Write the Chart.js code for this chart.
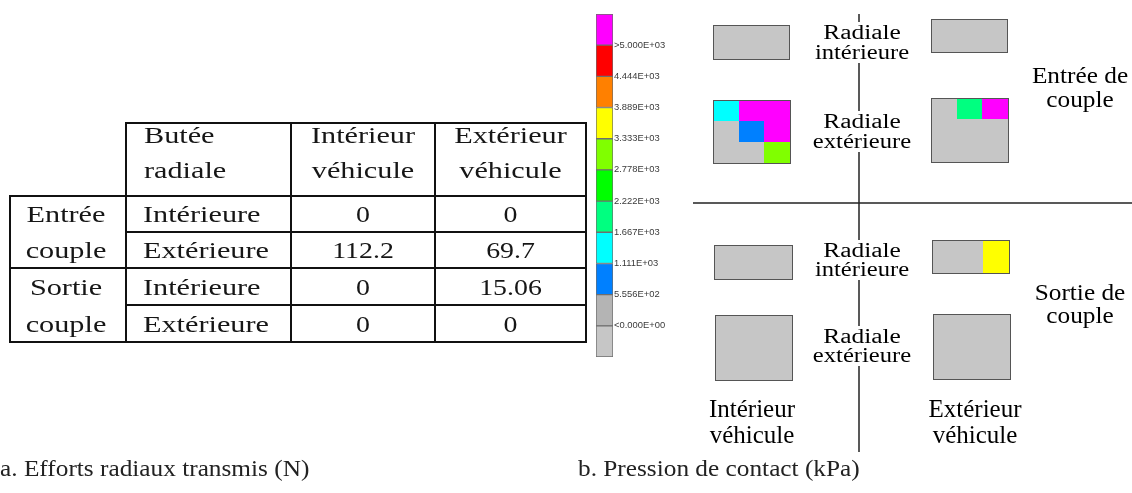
<!DOCTYPE html>
<html>
<head>
<meta charset="utf-8">
<script src="https://cdn.jsdelivr.net/npm/chart.js@4.4.1/dist/chart.umd.min.js"></script>
<style>
  body { margin: 0; background: #fff; }
  #wrap { position: relative; width: 1132px; height: 493px; }
  canvas { position: absolute; top: 0; }
</style>
</head>
<body>
<div id="wrap">
  <canvas id="main" width="1132" height="493" style="left:0"></canvas>
  <canvas id="bar" width="120" height="372" style="left:590px"></canvas>
</div>
<script>
// table a. : efforts radiaux transmis (N)
var colHeaders = [['Butée', 'radiale'], ['Intérieur', 'véhicule'], ['Extérieur', 'véhicule']];
var groups = [['Entrée', 'couple'], ['Sortie', 'couple']];
var butees = ['Intérieure', 'Extérieure', 'Intérieure', 'Extérieure'];
var effortsInterieur = [0, 112.2, 0, 0];
var effortsExterieur = [0, 69.7, 15.06, 0];

// colour scale of the contact pressure (kPa)
var cbEdges = [-555.6, 0, 555.6, 1111, 1667, 2222, 2778, 3333, 3889, 4444, 5000, 5555.6];
var cbColors = ['#c6c6c6', '#b4b4b4', '#0080ff', '#00ffff', '#00ff80', '#00ff00', '#80ff00', '#ffff00', '#ff8000', '#ff0000', '#ff00ff'];
var cbTicks = [0, 555.6, 1111, 1667, 2222, 2778, 3333, 3889, 4444, 5000];
var cbTickLabels = ['<0.000E+00', '5.556E+02', '1.111E+03', '1.667E+03', '2.222E+03', '2.778E+03', '3.333E+03', '3.889E+03', '4.444E+03', '>5.000E+03'];

// pressure class of each cell of the contact patches (index in cbColors)
var entreeIntRadInt = [[0, 0, 0]];
var entreeExtRadInt = [[0, 0, 0]];
var entreeIntRadExt = [[3, 10, 10], [0, 2, 10], [0, 0, 6]];
var entreeExtRadExt = [[0, 4, 10], [0, 0, 0], [0, 0, 0]];
var sortieIntRadInt = [[0, 0, 0]];
var sortieExtRadInt = [[0, 0, 7]];
var sortieIntRadExt = [[0, 0, 0], [0, 0, 0], [0, 0, 0]];
var sortieExtRadExt = [[0, 0, 0], [0, 0, 0], [0, 0, 0]];

var captionA = 'a. Efforts radiaux transmis (N)';
var captionB = 'b. Pression de contact (kPa)';

var W = 1132, H = 493;
var SERIF = '"Liberation Serif", "Times New Roman", serif';

function text(ctx, s, x, y, size, sx, align, color) {
    ctx.save();
    ctx.font = size + 'px ' + SERIF;
    ctx.fillStyle = color || '#000';
    ctx.textBaseline = 'alphabetic';
    var w = ctx.measureText(s).width * sx;
    var left = align == 'center' ? x - w / 2 : (align == 'right' ? x - w : x);
    ctx.translate(left, y);
    ctx.scale(sx, 1);
    ctx.textAlign = 'left';
    ctx.fillText(s, 0, 0);
    ctx.restore();
    return w;
}

var figurePlugin = {
    id: 'figure',
    afterDraw: function(chart) {
        var ctx = chart.ctx;
        var X = function(v) { return chart.scales.x.getPixelForValue(v); };
        var Y = function(v) { return chart.scales.y.getPixelForValue(v); };

        function line(x0, y0, x1, y1, w, c) {
            ctx.beginPath();
            ctx.moveTo(X(x0), Y(y0));
            ctx.lineTo(X(x1), Y(y1));
            ctx.lineWidth = w;
            ctx.strokeStyle = c;
            ctx.stroke();
        }

        // ---- table
        var colX = [10, 126, 291, 435, 586];
        var rowY = [123, 196, 232, 268, 305, 342];
        ctx.save();
        ctx.lineCap = 'square';
        line(colX[1], rowY[0], colX[4], rowY[0], 2, '#111');
        line(colX[0], rowY[1], colX[4], rowY[1], 2, '#111');
        line(colX[1], rowY[2], colX[4], rowY[2], 2, '#111');
        line(colX[0], rowY[3], colX[4], rowY[3], 2, '#111');
        line(colX[1], rowY[4], colX[4], rowY[4], 2, '#111');
        line(colX[0], rowY[5], colX[4], rowY[5], 2, '#111');
        line(colX[0], rowY[1], colX[0], rowY[5], 2, '#111');
        for (var c = 1; c < 5; c++) line(colX[c], rowY[0], colX[c], rowY[5], 2, '#111');
        ctx.restore();

        var TS = 24, TX = 1.26, NX = 1.16, TC = '#161616';
        // headers
        text(ctx, colHeaders[0][0], X(144), Y(143), TS, TX, 'left', TC);
        text(ctx, colHeaders[0][1], X(144), Y(178), TS, TX, 'left', TC);
        for (var h = 1; h < 3; h++) {
            var cx = (colX[h + 1] + colX[h + 2]) / 2;
            text(ctx, colHeaders[h][0], X(cx), Y(143), TS, TX, 'center', TC);
            text(ctx, colHeaders[h][1], X(cx), Y(178), TS, TX, 'center', TC);
        }
        // rows
        for (var r = 0; r < 4; r++) {
            var by = rowY[r + 2] - 10;
            text(ctx, groups[Math.floor(r / 2)][r % 2], X(66), Y(by), TS, TX, 'center', TC);
            text(ctx, butees[r], X(143), Y(by), TS, TX, 'left', TC);
            text(ctx, String(effortsInterieur[r]), X((colX[2] + colX[3]) / 2), Y(by), TS, NX, 'center', TC);
            text(ctx, String(effortsExterieur[r]), X((colX[3] + colX[4]) / 2), Y(by), TS, NX, 'center', TC);
        }

        // ---- right panel: axes
        line(859, 14, 859, 452, 1.5, '#222');
        line(693, 203, W, 203, 1.5, '#222');

        // labels of the radial stops, on white boxes over the axis
        var radLabels = [
            [['Radiale', 'intérieure'], [39, 59]],
            [['Radiale', 'extérieure'], [128, 148]],
            [['Radiale', 'intérieure'], [257, 276]],
            [['Radiale', 'extérieure'], [343, 362]]
        ];
        radLabels.forEach(function(l) {
            ctx.fillStyle = '#fff';
            ctx.fillRect(X(812), Y(l[1][0] - 17), X(912) - X(812), Y(l[1][1] + 4) - Y(l[1][0] - 17));
            text(ctx, l[0][0], X(862), Y(l[1][0]), 20.5, 1.24, 'center', '#000');
            text(ctx, l[0][1], X(862), Y(l[1][1]), 20.5, 1.2, 'center', '#000');
        });
        text(ctx, 'Entrée de', X(1080), Y(83), 23, 1.1, 'center', '#000');
        text(ctx, 'couple', X(1080), Y(107), 23, 1.1, 'center', '#000');
        text(ctx, 'Sortie de', X(1080), Y(300), 23, 1.1, 'center', '#000');
        text(ctx, 'couple', X(1080), Y(323), 23, 1.1, 'center', '#000');
        text(ctx, 'Intérieur', X(752), Y(417), 25, 1.0, 'center', '#000');
        text(ctx, 'véhicule', X(752), Y(443), 25, 1.0, 'center', '#000');
        text(ctx, 'Extérieur', X(975), Y(417), 25, 1.0, 'center', '#000');
        text(ctx, 'véhicule', X(975), Y(443), 25, 1.0, 'center', '#000');

        // ---- contact patches
        function patch(levels, x0, y0, x1, y1) {
            var nr = levels.length, nc = levels[0].length;
            for (var i = 0; i < nr; i++) {
                for (var j = 0; j < nc; j++) {
                    var a = X(x0 + (x1 - x0) * j / nc), b = Y(y0 + (y1 - y0) * i / nr);
                    var a2 = X(x0 + (x1 - x0) * (j + 1) / nc), b2 = Y(y0 + (y1 - y0) * (i + 1) / nr);
                    ctx.fillStyle = cbColors[levels[i][j]];
                    ctx.fillRect(Math.round(a), Math.round(b), Math.round(a2) - Math.round(a), Math.round(b2) - Math.round(b));
                }
            }
            ctx.lineWidth = 1;
            ctx.strokeStyle = '#555';
            ctx.strokeRect(Math.round(X(x0)) + 0.5, Math.round(Y(y0)) + 0.5, Math.round(X(x1) - X(x0)), Math.round(Y(y1) - Y(y0)));
        }
        patch(entreeIntRadInt, 713, 25, 789, 59);
        patch(entreeExtRadInt, 931, 19, 1007, 52);
        patch(entreeIntRadExt, 713, 100, 790, 163);
        patch(entreeExtRadExt, 931, 98, 1008, 162);
        patch(sortieIntRadInt, 714, 245, 792, 279);
        patch(sortieExtRadInt, 932, 240, 1009, 273);
        patch(sortieIntRadExt, 715, 315, 792, 380);
        patch(sortieExtRadExt, 933, 314, 1010, 379);

        // ---- captions
        text(ctx, captionA, X(0), Y(476), 23, 1.1, 'left', '#222');
        text(ctx, captionB, X(578), Y(476), 23, 1.1, 'left', '#222');
    }
};

new Chart(document.getElementById('main'), {
    type: 'scatter',
    data: { datasets: [{ data: [] }] },
    options: {
        responsive: false,
        animation: false,
        devicePixelRatio: 1,
        layout: { padding: 0 },
        plugins: { legend: { display: false }, tooltip: { enabled: false } },
        scales: {
            x: { type: 'linear', min: 0, max: W, display: false },
            y: { type: 'linear', min: 0, max: H, reverse: true, display: false }
        }
    },
    plugins: [figurePlugin]
});

// colour bar: one floating bar per pressure class
new Chart(document.getElementById('bar'), {
    type: 'bar',
    data: {
        labels: [''],
        datasets: cbColors.map(function(c, i) {
            return {
                data: [[cbEdges[i], cbEdges[i + 1]]],
                backgroundColor: c,
                borderColor: '#6e6e6e',
                borderWidth: 1,
                borderSkipped: false,
                grouped: false,
                barPercentage: 1,
                categoryPercentage: 1
            };
        })
    },
    options: {
        responsive: false,
        animation: false,
        devicePixelRatio: 1,
        layout: { padding: { left: 6, top: 14, bottom: 15, right: 0 } },
        plugins: { legend: { display: false }, tooltip: { enabled: false } },
        scales: {
            x: { display: false },
            y: {
                position: 'right',
                min: cbEdges[0],
                max: cbEdges[cbEdges.length - 1],
                grid: { display: false, drawTicks: false },
                border: { display: false },
                afterBuildTicks: function(s) { s.ticks = cbTicks.map(function(v) { return { value: v }; }); },
                afterFit: function(s) { s.width = 97; },
                ticks: {
                    padding: 1,
                    autoSkip: false,
                    color: '#3a3a3a',
                    font: { family: '"Liberation Sans", Arial, sans-serif', size: 9.4 },
                    callback: function(v, i) { return cbTickLabels[i]; }
                }
            }
        }
    }
});
</script>
</body>
</html>
